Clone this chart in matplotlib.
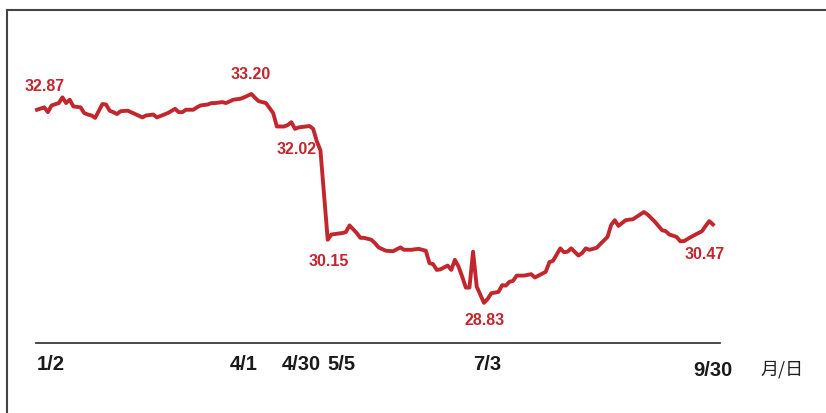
import matplotlib
matplotlib.use('Agg')
import matplotlib.pyplot as plt
from matplotlib.lines import Line2D

# trading day index (1/2 = 0) and price
days = [0, 2, 3, 4, 6, 7, 8, 9, 10, 12, 13, 14, 15, 16, 18, 19, 20, 21, 22, 23,
        25, 27, 29, 30, 32, 33, 35, 36, 38, 39, 40, 41, 43, 44, 45, 47, 48, 49, 51, 52,
        54, 56, 57, 59, 60, 61, 63, 65, 66, 68, 69, 70, 71, 72, 74, 75, 76, 77, 78, 80,
        81, 84, 85, 86, 88, 89, 90, 92, 93, 94, 96, 98, 100, 101, 103, 105, 107, 108, 109, 110,
        111, 113, 114, 115, 116, 117, 118, 119, 120, 121, 122, 123, 124, 125, 127, 128, 129, 130, 131, 132,
        134, 136, 137, 138, 140, 141, 142, 144, 145, 146, 147, 149, 150, 151, 152, 154, 155, 157, 158, 159,
        160, 162, 164, 165, 167, 168, 170, 172, 173, 174, 176, 177, 178, 180, 181, 183, 184, 185, 186]
price = [32.87, 32.92, 32.82, 32.96, 33.01, 33.13, 33.01, 33.08, 32.94, 32.92, 32.80, 32.77, 32.75, 32.70, 32.99, 32.98, 32.85, 32.82, 32.78, 32.84,
         32.85, 32.78, 32.71, 32.75, 32.77, 32.71, 32.77, 32.80, 32.89, 32.82, 32.82, 32.87, 32.87, 32.92, 32.96, 32.98, 33.01, 33.01, 33.03, 33.01,
         33.08, 33.10, 33.13, 33.20, 33.12, 33.05, 33.01, 32.80, 32.52, 32.52, 32.55, 32.61, 32.47, 32.50, 32.52, 32.53, 32.47, 32.21, 32.02, 30.15,
         30.26, 30.29, 30.31, 30.45, 30.29, 30.19, 30.19, 30.15, 30.08, 29.99, 29.92, 29.91, 29.99, 29.94, 29.94, 29.96, 29.92, 29.66, 29.64, 29.52,
         29.53, 29.61, 29.52, 29.73, 29.59, 29.38, 29.15, 29.15, 29.90, 29.17, 29.00, 28.83, 28.91, 29.03, 29.06, 29.20, 29.19, 29.27, 29.29, 29.40,
         29.40, 29.43, 29.36, 29.40, 29.48, 29.68, 29.71, 29.97, 29.89, 29.90, 29.97, 29.82, 29.87, 29.97, 29.94, 29.98, 30.06, 30.21, 30.46, 30.56,
         30.44, 30.56, 30.58, 30.63, 30.73, 30.68, 30.53, 30.35, 30.33, 30.26, 30.21, 30.12, 30.12, 30.21, 30.25, 30.33, 30.44, 30.54, 30.47]

# labelled points: (day, text, offset x px, offset y px, ha)
notes = [(0, '32.87', 8, 23, 'center'),
         (59, '33.20', -1, 19, 'center'),
         (78, '32.02', -4, 1, 'right'),
         (80, '30.15', 1, -22, 'center'),
         (123, '28.83', 1, -18, 'center'),
         (186, '30.47', -8, -30, 'center')]

tick_days = [0, 57, 78, 80, 124, 186]
tick_labels = ['1/2', '4/1', '4/30', '5/5', '7/3', '9/30']
tick_ha = ['left', 'center', 'right', 'left', 'center', 'center']

red = '#c1272d'
W, H = 826, 413
fig = plt.figure(figsize=(W / 100, H / 100), dpi=100)
ax = fig.add_axes([36 / W, 70 / H, 684 / W, 283 / H])
ax.plot(days, price, color=red, lw=2.8, solid_joinstyle='round', clip_on=False)
ax.set_xlim(-0.275, 187.95)
ax.set_ylim(27.99, 33.911)

for sp in ['top', 'left', 'right']:
    ax.spines[sp].set_visible(False)
ax.spines['bottom'].set_color('#3c3c3c')
ax.spines['bottom'].set_linewidth(1.3)
ax.set_xticks([])
ax.set_yticks([])
ax.patch.set_alpha(0)

lookup = dict(zip(days, price))
for d, txt, ox, oy, ha in notes:
    ax.annotate(txt, xy=(d, lookup[d]), xytext=(ox, oy), textcoords='offset pixels',
                ha=ha, va='center', color=red, fontsize=11.5, fontweight='bold',
                family='Liberation Sans', annotation_clip=False)

trans = ax.get_xaxis_transform()
for d, lab, ha in zip(tick_days, tick_labels, tick_ha):
    oy = -27 if lab == '9/30' else -22
    ax.annotate(lab, xy=(d, 0), xycoords=trans, xytext=(0, oy), textcoords='offset pixels',
                ha=ha, va='center', fontsize=14.5, fontweight='bold', color='#1a1a1a',
                family='Liberation Sans', annotation_clip=False)
ax.annotate('月/日', xy=(205, 0), xycoords=trans, xytext=(0, -27), textcoords='offset pixels',
            ha='center', va='center', fontsize=13, color='#222222',
            family=['Noto Sans CJK SC', 'DejaVu Sans'], annotation_clip=False)

# frame lines at top and left
fig.add_artist(Line2D([7 / W, 1], [1 - 10 / H, 1 - 10 / H], color='#444444', lw=1.5, transform=fig.transFigure))
fig.add_artist(Line2D([7 / W, 7 / W], [0, 1 - 10 / H], color='#444444', lw=1.5, transform=fig.transFigure))

fig.savefig('out.png', dpi=100, facecolor='white')
